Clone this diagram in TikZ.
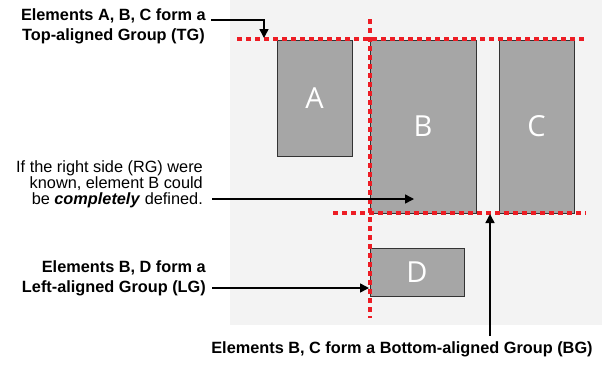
\documentclass[tikz,border=0pt]{standalone}
\usepackage{fontspec}
\setmainfont{Liberation Sans}
\newfontfamily\boxfont{Open Sans}
\usetikzlibrary{arrows.meta}
\definecolor{bgc}{RGB}{243,243,243}
\definecolor{boxc}{RGB}{166,166,166}
\definecolor{redl}{RGB}{237,28,36}
\begin{document}
\begin{tikzpicture}[x=1pt,y=-1pt,
 elem/.style={fill=boxc, draw=black!80, line width=1pt, text=white, font=\boxfont\fontsize{29}{29}\selectfont, inner sep=0},
 guide/.style={draw=redl, line width=3.5pt, dash pattern=on 5pt off 4pt},
 conn/.style={draw=black, line width=1.5pt, -{Triangle[length=9pt,width=9pt]}},
 lblb/.style={inner sep=0, font=\fontsize{16.3}{20}\selectfont\bfseries},
 lblr/.style={inner sep=0, font=\fontsize{16.3}{15.8}\selectfont}
]
\useasboundingbox (0,0) rectangle (610,365);
\fill[bgc] (230,0) rectangle (602,325);
% elements
\node[elem, minimum width=75pt, minimum height=116pt] (A) at (314.5,98) {A};
\node[elem, minimum width=106pt, minimum height=173pt] (B) at (423,126.5) {B};
\node[elem, minimum width=75pt, minimum height=173pt] (C) at (536.5,126.5) {C};
\node[elem, minimum width=94pt, minimum height=48pt] (D) at (417,272) {D};
% guides
\draw[guide] (237,39) -- (586,39);
\draw[guide] (370,19) -- (370,318);
\draw[guide] (333,213) -- (586,213);
% labels
\node[lblb, align=center, anchor=east] (tg) at (206,26) {Elements A, B, C form a\\Top-aligned Group (TG)};
\node[lblr, align=right, anchor=east] (rg) at (203,184) {If the right side (RG) were\\known, element B could\\be \textbf{\textit{completely}} defined.};
\node[lblb, align=right, anchor=east] (lg) at (206,278) {Elements B, D form a\\Left-aligned Group (LG)};
\node[lblb, anchor=center] (bg) at (402,349) {Elements B, C form a Bottom-aligned Group (BG)};
% connector points
\coordinate (tgs) at (211,20);
\coordinate (tgt) at (264,38);
\coordinate (rgs) at (212,199);
\coordinate (rgt) at (414,199);
\coordinate (lgs) at (212,288);
\coordinate (lgt) at (369,288);
\coordinate (bgs) at (490,336);
\coordinate (bgt) at (490,214);
\draw[conn] (tgs) -| (tgt);
\draw[conn] (rgs) -- (rgt);
\draw[conn] (lgs) -- (lgt);
\draw[conn] (bgs) -- (bgt);
\end{tikzpicture}
\end{document}
